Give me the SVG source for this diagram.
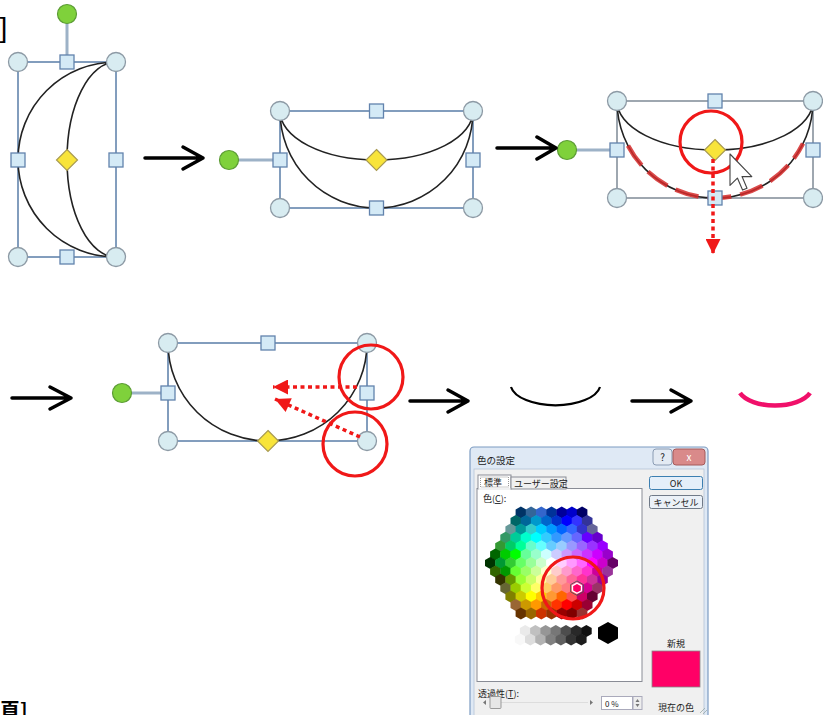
<svg xmlns="http://www.w3.org/2000/svg" xmlns:xlink="http://www.w3.org/1999/xlink" width="823" height="715" viewBox="0 0 823 715">
<style>
.box{fill:none;stroke:#5a7ea8;stroke-width:1.5}
.box3{fill:none;stroke:#7f8a96;stroke-width:1.5}
.arc{fill:none;stroke:#222;stroke-width:1.6}
.hc{fill:#d8ecf1;stroke:#8d9aa5;stroke-width:1.3}
.hs{fill:#d4eaf6;stroke:#6283ad;stroke-width:1.3}
.hg{fill:#7fd13b;stroke:#5c9c35;stroke-width:1.2}
.hd{fill:#f8e43a;stroke:#a89a52;stroke-width:1.2}
.stem{stroke:#9db2c7;stroke-width:3}
.arr{fill:none;stroke:#000;stroke-width:3.5;stroke-linecap:round;stroke-linejoin:round}
.red{fill:none;stroke:#f01818;stroke-width:3.2}
.rdot{fill:none;stroke:#f01818;stroke-width:3.5;stroke-dasharray:4 3.5}
.t{font-family:"Noto Sans CJK JP","Liberation Sans",sans-serif;fill:#222}
.btn{fill:#ebf1f8;stroke:#707a88;stroke-width:1}
</style>
<defs>
<circle id="c" r="9.5"/>
<rect id="s" x="-7" y="-7" width="14" height="14"/>
<path id="d" d="M0,-10.5 L10.5,0 L0,10.5 L-10.5,0Z"/>
<polygon id="hx" points="0,-6 5.3,-3 5.3,3 0,6 -5.3,3 -5.3,-3"/>
<marker id="rh" viewBox="0 0 10 10" refX="10" refY="5" markerWidth="17" markerHeight="15" markerUnits="userSpaceOnUse" orient="auto">
<path d="M0,0 L10,5 L0,10Z" fill="#f01818"/>
</marker>
</defs>

<text x="-0.5" y="36.5" style="font-family:'Liberation Sans',sans-serif;font-size:28px;fill:#000">]</text>
<text x="0" y="718" style="font-family:'Noto Sans CJK JP',sans-serif;font-size:20px;font-weight:bold;fill:#000">頁]</text>

<g id="moon1">
<rect x="18" y="62" width="98" height="195" class="box"/>
<path d="M116,62 A98,97.5 0 0 0 116,257 A49,97.5 0 0 1 116,62" class="arc"/>
<line x1="67" y1="23" x2="67" y2="55" class="stem"/>
<use href="#c" x="67" y="14" class="hg"/>
<use href="#c" x="18" y="62" class="hc"/><use href="#c" x="116" y="62" class="hc"/>
<use href="#c" x="18" y="257" class="hc"/><use href="#c" x="116" y="257" class="hc"/>
<use href="#s" x="67" y="62" class="hs"/><use href="#s" x="18" y="160" class="hs"/>
<use href="#s" x="116" y="160" class="hs"/><use href="#s" x="67" y="257" class="hs"/>
<use href="#d" x="67" y="160" class="hd"/>
</g>

<g id="moon2">
<rect x="280" y="111" width="193" height="97" class="box"/>
<path d="M280,111 A96.5,97 0 0 0 473,111 A96.5,49 0 0 1 280,111" class="arc"/>
<line x1="238" y1="160" x2="273" y2="160" class="stem"/>
<use href="#c" x="229" y="160" class="hg"/>
<use href="#c" x="280" y="111" class="hc"/><use href="#c" x="473" y="111" class="hc"/>
<use href="#c" x="280" y="208" class="hc"/><use href="#c" x="473" y="208" class="hc"/>
<use href="#s" x="376.5" y="111" class="hs"/><use href="#s" x="280" y="160" class="hs"/>
<use href="#s" x="473" y="160" class="hs"/><use href="#s" x="376.5" y="208" class="hs"/>
<use href="#d" x="376.5" y="160" class="hd"/>
</g>

<g id="moon3">
<rect x="617" y="101" width="196" height="97" class="box3"/>
<path d="M617,101 A98,97 0 0 0 813,101 A98,49 0 0 1 617,101" class="arc"/>
<path d="M628,145.6 A98,97 0 0 0 803,143.5" fill="none" stroke="#d42a2a" stroke-width="4.5" stroke-dasharray="24 9" opacity="0.85"/>
<line x1="576" y1="150" x2="610" y2="150" class="stem"/>
<use href="#c" x="567" y="150" class="hg"/>
<use href="#c" x="617" y="101" class="hc"/><use href="#c" x="813" y="101" class="hc"/>
<use href="#c" x="617" y="198" class="hc"/><use href="#c" x="813" y="198" class="hc"/>
<use href="#s" x="715" y="101" class="hs"/><use href="#s" x="617" y="150" class="hs"/>
<use href="#s" x="813" y="150" class="hs"/><use href="#s" x="715" y="198" class="hs"/>
<use href="#d" x="715" y="150" class="hd"/>
<circle cx="711" cy="142" r="31" class="red"/>
<polygon points="0,0 0,17 4,13 6.8,19.5 9.2,18.5 6.5,12.2 11.8,12.2" transform="translate(730,154) scale(1.85)" fill="#fff" stroke="#444" stroke-width="0.6" stroke-linejoin="round"/>
</g>

<g id="moon4">
<rect x="168" y="343" width="199" height="98" class="box"/>
<path d="M168,343 A99.5,98 0 0 0 367,343" class="arc"/>
<line x1="131" y1="393" x2="161" y2="393" class="stem"/>
<use href="#c" x="122" y="393" class="hg"/>
<use href="#c" x="168" y="343" class="hc"/><use href="#c" x="367" y="343" class="hc"/>
<use href="#c" x="168" y="441" class="hc"/><use href="#c" x="367" y="441" class="hc"/>
<use href="#s" x="268" y="343" class="hs"/><use href="#s" x="168" y="393" class="hs"/>
<use href="#s" x="367" y="393" class="hs"/>
<use href="#d" x="268" y="441" class="hd"/>
<circle cx="371" cy="377" r="32" class="red"/>
<circle cx="355" cy="444" r="32" class="red"/>
</g>

<g id="arc-black">
<path d="M511,387 A45,21.5 0 0 0 600,387" fill="none" stroke="#000" stroke-width="2.2"/>
</g>
<g id="arc-pink">
<path d="M740,393 A37,18.5 0 0 0 810,393" fill="none" stroke="#f0106a" stroke-width="4.5"/>
</g>

<g id="connectors">
<path class="arr" d="M145,158 H203 M183,147 L203,158 L183,169"/>
<path class="arr" d="M497,148 H556 M537,137 L556,148 L537,159"/>
<path class="arr" d="M12,398 H71 M50,387 L71,398 L50,409"/>
<path class="arr" d="M410,401 H468 M448,390 L468,401 L448,412"/>
<path class="arr" d="M632,401 H691 M671,390 L691,401 L671,412"/>
<path class="rdot" d="M713,159 L713,254" marker-end="url(#rh)"/>
<path class="rdot" d="M357,387 L273,387" marker-end="url(#rh)"/>
<path class="rdot" d="M360,437 L275,399" marker-end="url(#rh)"/>
</g>

<g id="dialog">
<rect x="470" y="447" width="238" height="275" rx="4" fill="#dfe9f5" stroke="#7d9cc2" stroke-width="1.2"/>
<rect x="474" y="469" width="230" height="250" fill="#f0f0f0" stroke="#b4c4d8" stroke-width="0.8"/>
<text x="477" y="464" class="t" font-size="9.5">色の設定</text>
<rect x="653" y="449" width="19" height="16" rx="3" fill="#e3eaf3" stroke="#8a9bb3"/>
<text x="662.5" y="461" class="t" font-size="10" text-anchor="middle" fill="#556">?</text>
<rect x="673" y="449" width="32" height="16" rx="3" fill="#d98a8a" stroke="#a55a5a"/>
<text x="689" y="461" class="t" font-size="10" text-anchor="middle" style="fill:#fff">x</text>

<rect x="477" y="488.5" width="165" height="193" fill="#fff" stroke="#898c95"/>
<rect x="478" y="475" width="33" height="14" fill="#fff" stroke="#898c95"/>
<rect x="480.5" y="477" width="28" height="10" fill="none" stroke="#555" stroke-width="0.6" stroke-dasharray="1 1"/>
<rect x="511" y="477" width="55" height="12" fill="#f0f0f0" stroke="#898c95"/>
<line x1="478.5" y1="489" x2="510.5" y2="489" stroke="#fff" stroke-width="1.5"/>
<text x="484" y="486" class="t" font-size="9">標準</text>
<text x="514" y="487" class="t" font-size="9">ユーザー設定</text>
<text x="483" y="502" class="t" font-size="9">色(<tspan text-decoration="underline">C</tspan>):</text>

<rect x="649.5" y="476.5" width="53" height="13" rx="2" fill="#e5eff9" stroke="#3c7fb1"/>
<text x="676" y="486.5" class="t" font-size="9" text-anchor="middle">OK</text>
<rect x="649.5" y="495.5" width="53" height="13" rx="2" class="btn"/>
<text x="676" y="505.5" class="t" font-size="9" text-anchor="middle">キャンセル</text>

<g id="hexwheel">
<g transform="translate(520.9,512.6)"><use href="#hx" x="0" fill="#003366"/><use href="#hx" x="10.2" fill="#336699"/><use href="#hx" x="20.4" fill="#3366CC"/><use href="#hx" x="30.6" fill="#003399"/><use href="#hx" x="40.8" fill="#000099"/><use href="#hx" x="51" fill="#0000CC"/><use href="#hx" x="61.2" fill="#000066"/></g>
<g transform="translate(515.8,521)"><use href="#hx" x="0" fill="#006666"/><use href="#hx" x="10.2" fill="#006699"/><use href="#hx" x="20.4" fill="#0099CC"/><use href="#hx" x="30.6" fill="#0066CC"/><use href="#hx" x="40.8" fill="#0033CC"/><use href="#hx" x="51" fill="#0000FF"/><use href="#hx" x="61.2" fill="#3333FF"/><use href="#hx" x="71.4" fill="#333399"/></g>
<g transform="translate(510.7,529.4)"><use href="#hx" x="0" fill="#669999"/><use href="#hx" x="10.2" fill="#009999"/><use href="#hx" x="20.4" fill="#33CCCC"/><use href="#hx" x="30.6" fill="#00CCFF"/><use href="#hx" x="40.8" fill="#0099FF"/><use href="#hx" x="51" fill="#0066FF"/><use href="#hx" x="61.2" fill="#3366FF"/><use href="#hx" x="71.4" fill="#3333CC"/><use href="#hx" x="81.6" fill="#666699"/></g>
<g transform="translate(505.6,537.8)"><use href="#hx" x="0" fill="#339966"/><use href="#hx" x="10.2" fill="#00CC99"/><use href="#hx" x="20.4" fill="#00FFCC"/><use href="#hx" x="30.6" fill="#00FFFF"/><use href="#hx" x="40.8" fill="#33CCFF"/><use href="#hx" x="51" fill="#3399FF"/><use href="#hx" x="61.2" fill="#6699FF"/><use href="#hx" x="71.4" fill="#6666FF"/><use href="#hx" x="81.6" fill="#6600FF"/><use href="#hx" x="91.8" fill="#6600CC"/></g>
<g transform="translate(500.5,546.2)"><use href="#hx" x="0" fill="#339933"/><use href="#hx" x="10.2" fill="#00CC66"/><use href="#hx" x="20.4" fill="#00FF99"/><use href="#hx" x="30.6" fill="#66FFCC"/><use href="#hx" x="40.8" fill="#66FFFF"/><use href="#hx" x="51" fill="#66CCFF"/><use href="#hx" x="61.2" fill="#99CCFF"/><use href="#hx" x="71.4" fill="#9999FF"/><use href="#hx" x="81.6" fill="#9966FF"/><use href="#hx" x="91.8" fill="#9933FF"/><use href="#hx" x="102" fill="#9900FF"/></g>
<g transform="translate(495.4,554.6)"><use href="#hx" x="0" fill="#006600"/><use href="#hx" x="10.2" fill="#00CC00"/><use href="#hx" x="20.4" fill="#00FF00"/><use href="#hx" x="30.6" fill="#66FF99"/><use href="#hx" x="40.8" fill="#99FFCC"/><use href="#hx" x="51" fill="#CCFFFF"/><use href="#hx" x="61.2" fill="#CCCCFF"/><use href="#hx" x="71.4" fill="#CC99FF"/><use href="#hx" x="81.6" fill="#CC66FF"/><use href="#hx" x="91.8" fill="#CC33FF"/><use href="#hx" x="102" fill="#CC00FF"/><use href="#hx" x="112.2" fill="#9900CC"/></g>
<g transform="translate(490.3,563)"><use href="#hx" x="0" fill="#003300"/><use href="#hx" x="10.2" fill="#009933"/><use href="#hx" x="20.4" fill="#33CC33"/><use href="#hx" x="30.6" fill="#66FF66"/><use href="#hx" x="40.8" fill="#99FF99"/><use href="#hx" x="51" fill="#CCFFCC"/><use href="#hx" x="61.2" fill="#FFFFFF"/><use href="#hx" x="71.4" fill="#FFCCFF"/><use href="#hx" x="81.6" fill="#FF99FF"/><use href="#hx" x="91.8" fill="#FF66FF"/><use href="#hx" x="102" fill="#FF00FF"/><use href="#hx" x="112.2" fill="#CC00CC"/><use href="#hx" x="122.4" fill="#660066"/></g>
<g transform="translate(495.4,571.4)"><use href="#hx" x="0" fill="#336600"/><use href="#hx" x="10.2" fill="#009900"/><use href="#hx" x="20.4" fill="#66FF33"/><use href="#hx" x="30.6" fill="#99FF66"/><use href="#hx" x="40.8" fill="#CCFF99"/><use href="#hx" x="51" fill="#FFFFCC"/><use href="#hx" x="61.2" fill="#FFCCCC"/><use href="#hx" x="71.4" fill="#FF99CC"/><use href="#hx" x="81.6" fill="#FF66CC"/><use href="#hx" x="91.8" fill="#FF33CC"/><use href="#hx" x="102" fill="#CC0099"/><use href="#hx" x="112.2" fill="#993399"/></g>
<g transform="translate(500.5,579.8)"><use href="#hx" x="0" fill="#333300"/><use href="#hx" x="10.2" fill="#669900"/><use href="#hx" x="20.4" fill="#99FF33"/><use href="#hx" x="30.6" fill="#CCFF66"/><use href="#hx" x="40.8" fill="#FFFF99"/><use href="#hx" x="51" fill="#FFCC99"/><use href="#hx" x="61.2" fill="#FF9999"/><use href="#hx" x="71.4" fill="#FF6699"/><use href="#hx" x="81.6" fill="#FF3399"/><use href="#hx" x="91.8" fill="#CC3399"/><use href="#hx" x="102" fill="#990099"/></g>
<g transform="translate(505.6,588.2)"><use href="#hx" x="0" fill="#666633"/><use href="#hx" x="10.2" fill="#99CC00"/><use href="#hx" x="20.4" fill="#CCFF33"/><use href="#hx" x="30.6" fill="#FFFF66"/><use href="#hx" x="40.8" fill="#FFCC66"/><use href="#hx" x="51" fill="#FF9966"/><use href="#hx" x="61.2" fill="#FF7C80"/><use href="#hx" x="71.4" fill="#FF0066"/><use href="#hx" x="81.6" fill="#D60093"/><use href="#hx" x="91.8" fill="#993366"/></g>
<g transform="translate(510.7,596.6)"><use href="#hx" x="0" fill="#808000"/><use href="#hx" x="10.2" fill="#CCCC00"/><use href="#hx" x="20.4" fill="#FFFF00"/><use href="#hx" x="30.6" fill="#FFCC00"/><use href="#hx" x="40.8" fill="#FF9933"/><use href="#hx" x="51" fill="#FF6600"/><use href="#hx" x="61.2" fill="#FF5050"/><use href="#hx" x="71.4" fill="#CC0066"/><use href="#hx" x="81.6" fill="#660033"/></g>
<g transform="translate(515.8,605)"><use href="#hx" x="0" fill="#996633"/><use href="#hx" x="10.2" fill="#CC9900"/><use href="#hx" x="20.4" fill="#FF9900"/><use href="#hx" x="30.6" fill="#CC6600"/><use href="#hx" x="40.8" fill="#FF3300"/><use href="#hx" x="51" fill="#FF0000"/><use href="#hx" x="61.2" fill="#CC0000"/><use href="#hx" x="71.4" fill="#990033"/></g>
<g transform="translate(520.9,613.4)"><use href="#hx" x="0" fill="#663300"/><use href="#hx" x="10.2" fill="#996600"/><use href="#hx" x="20.4" fill="#CC3300"/><use href="#hx" x="30.6" fill="#993300"/><use href="#hx" x="40.8" fill="#990000"/><use href="#hx" x="51" fill="#800000"/><use href="#hx" x="61.2" fill="#993333"/></g>
<use href="#hx" x="577" y="588.2" fill="none" stroke="#555" stroke-width="0.8" transform="translate(577,588.2) scale(1.2) translate(-577,-588.2)"/>
<use href="#hx" x="577" y="588.2" fill="none" stroke="#fff" stroke-width="1.6" transform="translate(577,588.2) scale(0.85) translate(-577,-588.2)"/>
</g>

<g id="grays">
<g transform="translate(515,631)"><use href="#hx" x="0" fill="#FFFFFF"/><use href="#hx" x="10.2" fill="#EAEAEA"/><use href="#hx" x="20.4" fill="#C0C0C0"/><use href="#hx" x="30.6" fill="#969696"/><use href="#hx" x="40.8" fill="#777777"/><use href="#hx" x="51" fill="#4D4D4D"/><use href="#hx" x="61.2" fill="#292929"/><use href="#hx" x="71.4" fill="#111111"/></g>
<g transform="translate(520.1,639.4)"><use href="#hx" x="0" fill="#F8F8F8"/><use href="#hx" x="10.2" fill="#DDDDDD"/><use href="#hx" x="20.4" fill="#B2B2B2"/><use href="#hx" x="30.6" fill="#808080"/><use href="#hx" x="40.8" fill="#5F5F5F"/><use href="#hx" x="51" fill="#333333"/><use href="#hx" x="61.2" fill="#1C1C1C"/></g>
<polygon points="0,-11 10,-5.5 10,5.5 0,11 -10,5.5 -10,-5.5" transform="translate(608,633)" fill="#000"/>
</g>

<circle cx="573" cy="588" r="31" class="red"/>

<text x="676" y="647" class="t" font-size="9" text-anchor="middle">新規</text>
<rect x="652" y="651" width="48" height="36" fill="#ff0066" stroke="#888" stroke-width="0.8"/>
<text x="676" y="711" class="t" font-size="9" text-anchor="middle">現在の色</text>

<text x="478" y="697" class="t" font-size="9">透過性(<tspan text-decoration="underline">T</tspan>):</text>
<line x1="490" y1="702.5" x2="588" y2="702.5" stroke="#ddd" stroke-width="1"/>
<path d="M486,700 L483,702.5 L486,705Z" fill="#777"/>
<path d="M590,700 L593,702.5 L590,705Z" fill="#777"/>
<rect x="490" y="696.5" width="11" height="12" rx="1" fill="#e6e6e6" stroke="#999"/>
<rect x="601.5" y="696.5" width="31" height="13" fill="#fff" stroke="#aab"/>
<text x="605" y="706.5" class="t" font-size="8">0 %</text>
<rect x="633" y="696.5" width="9" height="13" fill="#eee" stroke="#aab"/>
<path d="M635.5,702 L637.5,699 L639.5,702Z M635.5,704 L637.5,707 L639.5,704Z" fill="#777"/>
<path d="M700,713 L705,708 M703,714 L707,710" stroke="#9aa" stroke-width="0.8"/>
</g>
</svg>
